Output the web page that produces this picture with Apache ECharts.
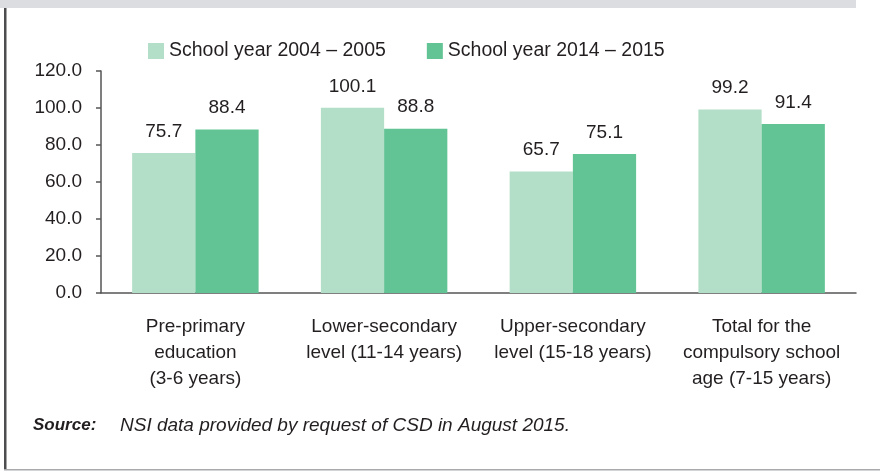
<!DOCTYPE html>
<html>
<head>
<meta charset="utf-8">
<script src="https://cdn.jsdelivr.net/npm/echarts@6/dist/echarts.min.js"></script>
<style>
  html, body { margin: 0; padding: 0; background: #fff; }
  #chart { width: 880px; height: 472px; }
</style>
</head>
<body>
<div id="chart"></div>
<script>
const categories = [
  'Pre-primary\neducation\n(3-6 years)',
  'Lower-secondary\nlevel (11-14 years)',
  'Upper-secondary\nlevel (15-18 years)',
  'Total for the\ncompulsory school\nage (7-15 years)'
];
const year2004 = [75.7, 100.1, 65.7, 99.2];
const year2014 = [88.4, 88.8, 75.1, 91.4];
const seriesNames = ['School year 2004 \u2013 2005', 'School year 2014 \u2013 2015'];
const yTicks = [0, 20, 40, 60, 80, 100, 120];

const FONT = 'Liberation Sans';
const TEXT = '#231f20';
const LIGHT = '#b3dfc8';
const DARK = '#62c394';

const chart = echarts.init(document.getElementById('chart'), null, { renderer: 'canvas' });

function barSeries(name, data, color) {
  return {
    name: name,
    type: 'bar',
    data: data,
    barGap: '0%',
    barCategoryGap: '33%',
    itemStyle: { color: color },
    label: {
      show: true,
      position: 'top',
      distance: 12,
      fontFamily: FONT,
      fontSize: 19,
      color: TEXT,
      formatter: (p) => p.value.toFixed(1)
    }
  };
}

const option = {
  animation: false,
  textStyle: { fontFamily: FONT, color: TEXT },
  legend: {
    left: 143,
    top: 36,
    itemWidth: 16,
    itemHeight: 16,
    itemGap: 41,
    icon: 'rect',
    textStyle: { fontFamily: FONT, fontSize: 19.5, color: TEXT },
    data: seriesNames
  },
  grid: {
    left: 101,
    right: 24,
    top: 71,
    bottom: 179,
    containLabel: false
  },
  xAxis: {
    type: 'category',
    data: categories,
    axisLine: { lineStyle: { color: '#555', width: 1.5 } },
    axisTick: { show: false },
    axisLabel: {
      interval: 0,
      margin: 21,
      fontFamily: FONT,
      fontSize: 19,
      lineHeight: 26,
      color: TEXT
    }
  },
  yAxis: {
    type: 'value',
    min: yTicks[0],
    max: yTicks[yTicks.length - 1],
    interval: yTicks[1] - yTicks[0],
    splitLine: { show: false },
    axisLine: { show: true, lineStyle: { color: '#555', width: 1.5 } },
    axisTick: { show: true, length: 5, lineStyle: { color: '#555', width: 1.5 } },
    axisLabel: {
      margin: 19,
      fontFamily: FONT,
      fontSize: 19,
      color: TEXT,
      formatter: (v) => v.toFixed(1)
    }
  },
  series: [
    barSeries(seriesNames[0], year2004, LIGHT),
    barSeries(seriesNames[1], year2014, DARK)
  ],
  graphic: [
    // frame: grey band on top, dark rule on the left, light rule at the bottom
    { type: 'rect', left: 0, top: 0, shape: { width: 856, height: 8 }, style: { fill: '#dcdde0' }, silent: true },
    { type: 'rect', left: 4, top: 8, shape: { width: 2.5, height: 462 }, style: { fill: '#4d4d4f' }, silent: true },
    { type: 'rect', left: 4, top: 469, shape: { width: 876, height: 1.5 }, style: { fill: '#a7a9ac' }, silent: true },
    {
      type: 'text', left: 33, top: 417,
      style: { text: 'Source:', font: 'italic bold 17px "' + FONT + '"', fill: TEXT }
    },
    {
      type: 'text', left: 120, top: 416,
      style: { text: 'NSI data provided by request of CSD in August 2015.', font: 'italic 19px "' + FONT + '"', fill: TEXT }
    }
  ]
};

chart.setOption(option);
</script>
</body>
</html>
